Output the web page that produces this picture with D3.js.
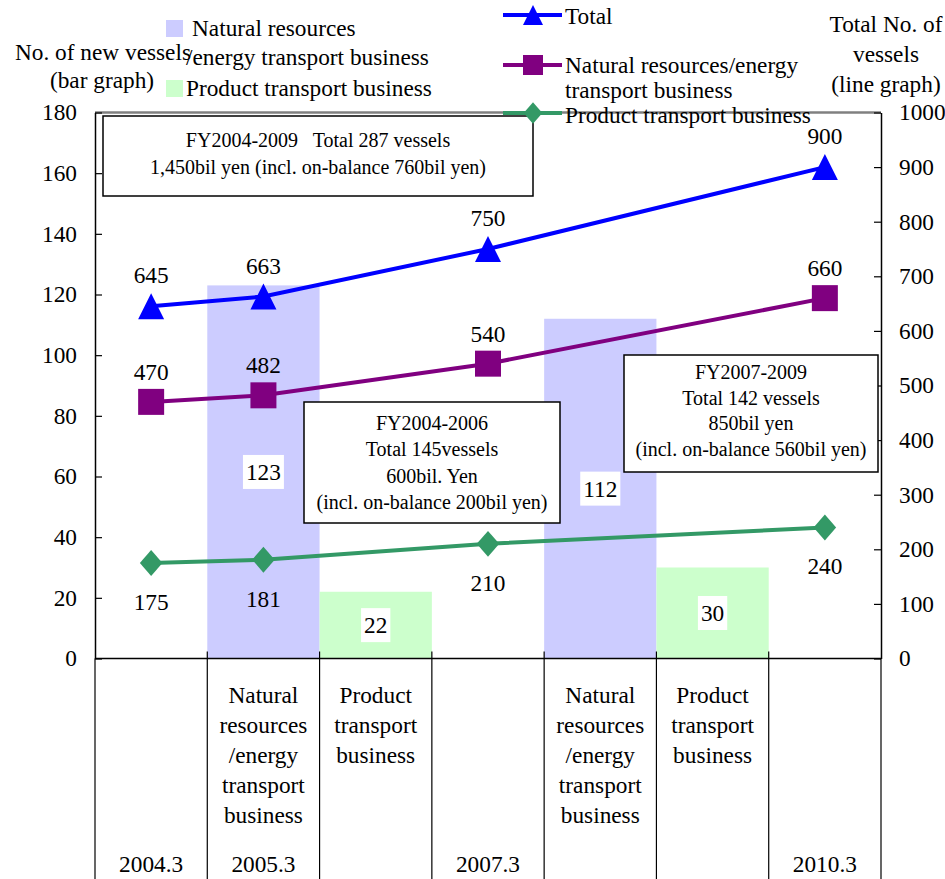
<!DOCTYPE html>
<html>
<head>
<meta charset="utf-8">
<script src="https://cdn.jsdelivr.net/npm/d3@7"></script>
<style>
  html, body { margin: 0; padding: 0; background: #fff; }
  svg { display: block; font-family: "Liberation Serif", "Times New Roman", serif; }
</style>
</head>
<body>
<svg id="chart" width="945" height="879"></svg>
<script>
// ---- data ----
// seven columns along the category axis
const columnIds = [0, 1, 2, 3, 4, 5, 6];
const columnYears = ["2004.3", "2005.3", "", "2007.3", "", "", "2010.3"];
const columnSegments = [
  [],
  ["Natural", "resources", "/energy", "transport", "business"],
  ["Product", "transport", "business"],
  [],
  ["Natural", "resources", "/energy", "transport", "business"],
  ["Product", "transport", "business"],
  []
];

// bars: number of new vessels (left axis)
const barColumns = [1, 2, 4, 5];
const barValues = [123, 22, 112, 30];
const barKinds = ["natural", "product", "natural", "product"];

// lines: total number of vessels (right axis)
const lineColumns = [0, 1, 3, 6];
const totalValues = [645, 663, 750, 900];
const naturalValues = [470, 482, 540, 660];
const productValues = [175, 181, 210, 240];

const leftTicks = [0, 20, 40, 60, 80, 100, 120, 140, 160, 180];
const rightTicks = [0, 100, 200, 300, 400, 500, 600, 700, 800, 900, 1000];

const notes = [
  ["FY2004-2009   Total 287 vessels", "1,450bil yen (incl. on-balance 760bil yen)"],
  ["FY2004-2006", "Total 145vessels", "600bil. Yen", "(incl. on-balance 200bil yen)"],
  ["FY2007-2009", "Total 142 vessels", "850bil yen", "(incl. on-balance 560bil yen)"]
];

// ---- styles ----
const barColor = { natural: "#CCCCFF", product: "#CCFFCC" };
const seriesStyle = [
  { name: "Total", values: totalValues, color: "#0000FF", marker: "triangle", labelDy: -23 },
  { name: "Natural", values: naturalValues, color: "#800080", marker: "square", labelDy: -22 },
  { name: "Product", values: productValues, color: "#339966", marker: "diamond", labelDy: 47 }
];

const svg = d3.select("#chart");
const plotLeft = 95, plotRight = 881, plotTop = 112.5, plotBottom = 658.5, tableBottom = 879;
const fs = 23.3;
const serif = "Liberation Serif, Times New Roman, serif";

const x = d3.scaleBand().domain(columnIds).range([plotLeft, plotRight]).paddingInner(0).paddingOuter(0);
const yL = d3.scaleLinear().domain([0, 180]).range([plotBottom, plotTop]);
const yR = d3.scaleLinear().domain([0, 1000]).range([plotBottom, plotTop]);
const cx = i => x(i) + x.bandwidth() / 2;

// bars
svg.append("g").selectAll("rect")
  .data(barValues.map((v, i) => ({ v, col: barColumns[i], kind: barKinds[i] })))
  .join("rect")
  .attr("x", d => x(d.col))
  .attr("width", x.bandwidth())
  .attr("y", d => yL(d.v))
  .attr("height", d => yL(0) - yL(d.v))
  .attr("fill", d => barColor[d.kind]);

// top frame line
svg.append("line").attr("x1", plotLeft).attr("x2", plotRight).attr("y1", plotTop).attr("y2", plotTop)
  .attr("stroke", "#808080").attr("stroke-width", 2.5);

// left axis
const gL = svg.append("g").attr("transform", `translate(${plotLeft},0)`)
  .call(d3.axisLeft(yL).tickValues(leftTicks).tickFormat(d3.format("d"))
    .tickSize(-7).tickSizeOuter(0).tickPadding(18));
// right axis
const gR = svg.append("g").attr("transform", `translate(${plotRight},0)`)
  .call(d3.axisRight(yR).tickValues(rightTicks).tickFormat(d3.format("d"))
    .tickSize(-7).tickSizeOuter(0).tickPadding(18));
[gL, gR].forEach(g => {
  g.attr("font-family", serif).attr("font-size", fs);
  g.selectAll(".domain").attr("stroke", "#000").attr("stroke-width", 1.5);
  g.selectAll(".tick line").attr("stroke", "#000").attr("stroke-width", 1.2);
  g.selectAll(".tick text").attr("fill", "#000");
});

// category axis line and table grid
svg.append("line").attr("x1", plotLeft).attr("x2", plotRight).attr("y1", plotBottom).attr("y2", plotBottom)
  .attr("stroke", "#000").attr("stroke-width", 1.5);
const boundaries = columnIds.map(i => x(i)).concat([plotRight]);
svg.append("g").selectAll("line")
  .data(boundaries)
  .join("line")
  .attr("x1", d => d).attr("x2", d => d)
  .attr("y1", (d, i) => (i === 0 || i === boundaries.length - 1) ? plotBottom : plotBottom - 7)
  .attr("y2", tableBottom)
  .attr("stroke", "#000").attr("stroke-width", 1.2);

// category labels
const catG = svg.append("g").attr("font-size", fs).attr("text-anchor", "middle");
columnIds.forEach(i => {
  columnSegments[i].forEach((t, k) => {
    catG.append("text").attr("x", cx(i)).attr("y", 703 + k * 30).text(t);
  });
  if (columnYears[i]) catG.append("text").attr("x", cx(i)).attr("y", 872).text(columnYears[i]);
});

// bar value labels with white backgrounds
const bl = svg.append("g");
barValues.forEach((v, i) => {
  const col = barColumns[i];
  const mid = (yL(v) + yL(0)) / 2;
  const g = bl.append("g");
  const r = g.append("rect").attr("fill", "#fff");
  const t = g.append("text").attr("x", cx(col)).attr("y", mid + 8)
    .attr("text-anchor", "middle").attr("font-size", fs).text(v);
  const w = t.node().getComputedTextLength() + 6;
  r.attr("x", cx(col) - w / 2).attr("y", mid - 17).attr("width", w).attr("height", 34);
});

// legend background
svg.append("rect").attr("x", 466).attr("y", 0).attr("width", 382).attr("height", 111).attr("fill", "#fff");

// note boxes
const boxGeom = [
  { x: 103, y: 116, w: 430, h: 80, first: 147, step: 27 },
  { x: 304, y: 402, w: 256, h: 121, first: 430, step: 26.3 },
  { x: 624, y: 355, w: 254, h: 117, first: 379, step: 25.5 }
];
notes.forEach((lines, i) => {
  const b = boxGeom[i];
  const g = svg.append("g");
  g.append("rect").attr("x", b.x).attr("y", b.y).attr("width", b.w).attr("height", b.h)
    .attr("fill", "#fff").attr("stroke", "#000").attr("stroke-width", 1.5);
  lines.forEach((t, k) => {
    g.append("text").attr("x", b.x + b.w / 2).attr("y", b.first + k * b.step)
      .attr("text-anchor", "middle").attr("font-size", 20).style("white-space", "pre").text(t);
  });
});

// marker shapes
function markerPath(kind, s) {
  if (kind === "triangle") return `M0,${-s / 2}L${s / 2},${s / 2}L${-s / 2},${s / 2}Z`;
  if (kind === "square") return `M${-s / 2},${-s / 2}h${s}v${s}h${-s}Z`;
  return `M0,${-s * 0.54}L${s * 0.47},0L0,${s * 0.54}L${-s * 0.47},0Z`;
}

// lines
seriesStyle.forEach(s => {
  const pts = s.values.map((v, i) => [cx(lineColumns[i]), yR(v), v]);
  svg.append("path").attr("d", d3.line()(pts.map(p => [p[0], p[1]])))
    .attr("fill", "none").attr("stroke", s.color).attr("stroke-width", 4);
  svg.append("g").selectAll("path").data(pts).join("path")
    .attr("transform", p => `translate(${p[0]},${p[1]})`)
    .attr("d", markerPath(s.marker, s.marker === "diamond" ? 24 : 26))
    .attr("fill", s.color);
  svg.append("g").selectAll("text").data(pts).join("text")
    .attr("x", p => p[0]).attr("y", p => p[1] + s.labelDy)
    .attr("text-anchor", "middle").attr("font-size", fs).text(p => p[2]);
});

// legend: bars
svg.append("rect").attr("x", 166).attr("y", 20).attr("width", 17).attr("height", 17).attr("fill", barColor.natural);
svg.append("rect").attr("x", 166).attr("y", 80).attr("width", 17).attr("height", 17).attr("fill", barColor.product);
svg.append("text").attr("x", 192).attr("y", 36).attr("font-size", fs).text("Natural resources");
svg.append("text").attr("x", 186).attr("y", 65).attr("font-size", fs).text("/energy transport business");
svg.append("text").attr("x", 186).attr("y", 96).attr("font-size", fs).text("Product transport business");

// legend: lines
const lineLegend = [
  { y: 15, lines: ["Total"], base: 24 },
  { y: 65, lines: ["Natural resources/energy", "transport business"], base: 73 },
  { y: 113, lines: ["Product transport business"], base: 123 }
];
lineLegend.forEach((l, i) => {
  const s = seriesStyle[i];
  svg.append("line").attr("x1", 503).attr("x2", 562).attr("y1", l.y).attr("y2", l.y)
    .attr("stroke", s.color).attr("stroke-width", 4);
  svg.append("path").attr("transform", `translate(533,${l.y})`)
    .attr("d", markerPath(s.marker, 20)).attr("fill", s.color);
  l.lines.forEach((t, k) => {
    svg.append("text").attr("x", 565).attr("y", l.base + k * 25).attr("font-size", fs).text(t);
  });
});

// axis titles
svg.append("text").attr("x", 15).attr("y", 60).attr("font-size", fs).text("No. of new vessels");
svg.append("text").attr("x", 102).attr("y", 88).attr("text-anchor", "middle").attr("font-size", fs).text("(bar graph)");
const rt = svg.append("g").attr("text-anchor", "middle").attr("font-size", fs);
["Total No. of", "vessels", "(line graph)"].forEach((t, k) => {
  rt.append("text").attr("x", 886).attr("y", 32 + k * 30).text(t);
});
</script>
</body>
</html>
